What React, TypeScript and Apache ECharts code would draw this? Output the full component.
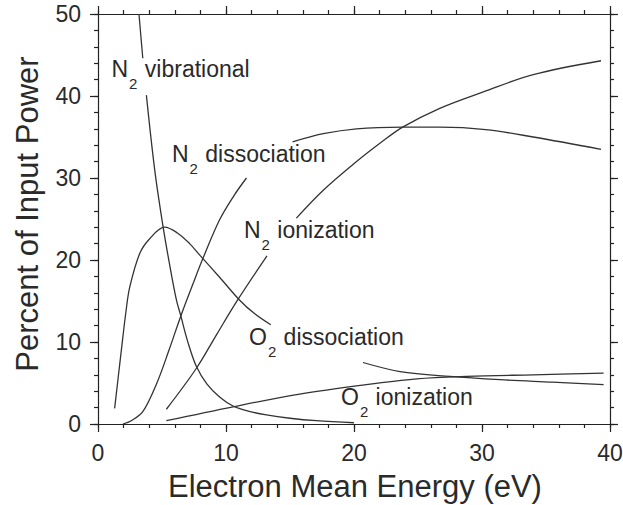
import React, { useEffect, useRef } from "react";
import * as echarts from "echarts";

// Electron mean energy (eV) vs percent of input power
const n2VibE = [3.2, 3.5, null, 3.78, 4.43, 5.08, 5.6, 6.13, 6.45, 7.0, 7.69, 8.5, 9.5, 10.55, 11.8, 13.16, 15.0, 17.06, 20.0];
const n2VibP = [50, 44.6, null, 40.1, 31.0, 24.1, 19.4, 15.1, 13.3, 10.1, 7.0, 4.9, 3.3, 2.2, 1.55, 1.1, 0.7, 0.4, 0.15];

const o2DissE = [1.3, 1.75, 2.2, 2.48, 3.26, 4.04, 5.21, 6.2, 7.16, 7.95, 9.5, 11.07, 12.2, 13.5, null, 20.7, 23.6, 27.5, 31.4, 35.5, 39.5];
const o2DissP = [1.9, 8.0, 13.9, 16.7, 20.8, 22.6, 24.0, 23.3, 22.0, 20.6, 17.9, 15.1, 13.5, 12.1, null, 7.5, 6.4, 5.8, 5.4, 5.1, 4.8];

const n2DissE = [1.95, 2.6, 3.5, 4.6, 5.5, 6.5, 7.4, 8.2, 9.5, 10.6, 11.6, null, 15.2, 17.6, 20.2, 23.8, 26.7, 30.3, 34.0, 39.3];
const n2DissP = [0.0, 0.4, 1.5, 5.0, 8.8, 13.3, 17.0, 20.2, 24.9, 27.8, 30.0, null, 34.4, 35.4, 36.0, 36.2, 36.2, 35.9, 35.0, 33.5];

const n2IonE = [5.34, 7.69, 9.3, 10.9, 13.2, null, 15.5, 17.6, 20.2, 22.0, 23.8, 26.7, 30.1, 34.0, 39.3];
const n2IonP = [1.8, 6.8, 11.0, 15.1, 20.5, null, 25.1, 28.5, 32.0, 34.2, 36.2, 38.5, 40.5, 42.6, 44.3];

const o2IonE = [5.34, 10.55, 15.76, 20.7, 24.9, 28.8, 34.0, 39.5];
const o2IonP = [0.4, 2.1, 3.65, 4.75, 5.5, 5.8, 6.0, 6.2];

const xTitle = "Electron Mean Energy (eV)";
const yTitle = "Percent of Input Power";

const FONT = "'Liberation Sans', Arial, Helvetica, sans-serif";
const INK = "#2a2a2a";

function pairs(xs: (number | null)[], ys: (number | null)[]) {
  return xs.map((x, i) => (x === null || ys[i] === null ? ["-", "-"] : [x, ys[i]]));
}

const rich = {
  m: { fontSize: 23, fontFamily: FONT, fill: INK, color: INK, verticalAlign: "top", lineHeight: 26 },
  s: { fontSize: 15, fontFamily: FONT, fill: INK, color: INK, verticalAlign: "top", padding: [18, 1, 0, 1] },
};

function label(mol: string, rest: string, x: number, y: number) {
  return {
    type: "text",
    x,
    y,
    z: 10,
    style: { text: `{m|${mol}}{s|2}{m| ${rest}}`, rich, align: "left", verticalAlign: "top" },
  };
}

const axisColor = "#222";

function ax(pos: string, max: number, interval: number, major: boolean, labels: boolean) {
  return {
    type: "value",
    position: pos,
    min: 0,
    max,
    interval,
    axisLine: { show: major, onZero: false, lineStyle: { color: axisColor, width: 1.2 } },
    axisTick: { show: true, inside: false, length: major ? 8 : 4, lineStyle: { color: axisColor, width: 1.2 } },
    splitLine: { show: false },
    axisLabel: { show: labels, fontSize: 23, fontFamily: FONT, color: INK, margin: 17 },
  };
}

function line(name: string, data: any[]) {
  return {
    name,
    type: "line",
    data,
    smooth: 0.35,
    showSymbol: false,
    symbol: "none",
    connectNulls: false,
    lineStyle: { color: "#333", width: 1.3 },
    silent: true,
  };
}

export default function App() {
  const ref = useRef<HTMLDivElement>(null);
  useEffect(() => {
    const chart = echarts.init(ref.current!, null, { renderer: "svg" });
    chart.setOption({
      animation: false,
      backgroundColor: "#fff",
      grid: { left: 98, right: 13, top: 14, bottom: 81, outerBoundsMode: "none", containLabel: false },
      xAxis: [
        ax("bottom", 40, 10, true, true),
        ax("top", 40, 10, true, false),
        ax("bottom", 40, 2, false, false),
        ax("top", 40, 2, false, false),
      ],
      yAxis: [
        ax("left", 50, 10, true, true),
        ax("right", 50, 10, true, false),
        ax("left", 50, 2, false, false),
        ax("right", 50, 2, false, false),
      ],
      series: [
        line("N2 vibrational", pairs(n2VibE, n2VibP)),
        line("O2 dissociation", pairs(o2DissE, o2DissP)),
        line("N2 dissociation", pairs(n2DissE, n2DissP)),
        line("N2 ionization", pairs(n2IonE, n2IonP)),
        line("O2 ionization", pairs(o2IonE, o2IonP)),
        { type: "line", data: [], xAxisIndex: 1, yAxisIndex: 1, silent: true },
        { type: "line", data: [], xAxisIndex: 2, yAxisIndex: 2, silent: true },
        { type: "line", data: [], xAxisIndex: 3, yAxisIndex: 3, silent: true },
      ],
      graphic: [
        label("N", "vibrational", 111.5, 57.5),
        label("N", "dissociation", 172, 142.5),
        label("N", "ionization", 244, 218.5),
        label("O", "dissociation", 249, 325.5),
        label("O", "ionization", 341, 385.5),
        {
          type: "text",
          x: 355,
          y: 486,
          style: { text: xTitle, fontSize: 31, fontFamily: FONT, fill: INK, align: "center", verticalAlign: "middle" },
        },
        {
          type: "text",
          x: 27,
          y: 214,
          rotation: Math.PI / 2,
          style: { text: yTitle, fontSize: 31, fontFamily: FONT, fill: INK, align: "center", verticalAlign: "middle" },
        },
      ],
    });
    return () => chart.dispose();
  }, []);
  return <div ref={ref} style={{ position: "absolute", left: 0, top: 0, width: 623, height: 505, background: "#fff" }} />;
}
